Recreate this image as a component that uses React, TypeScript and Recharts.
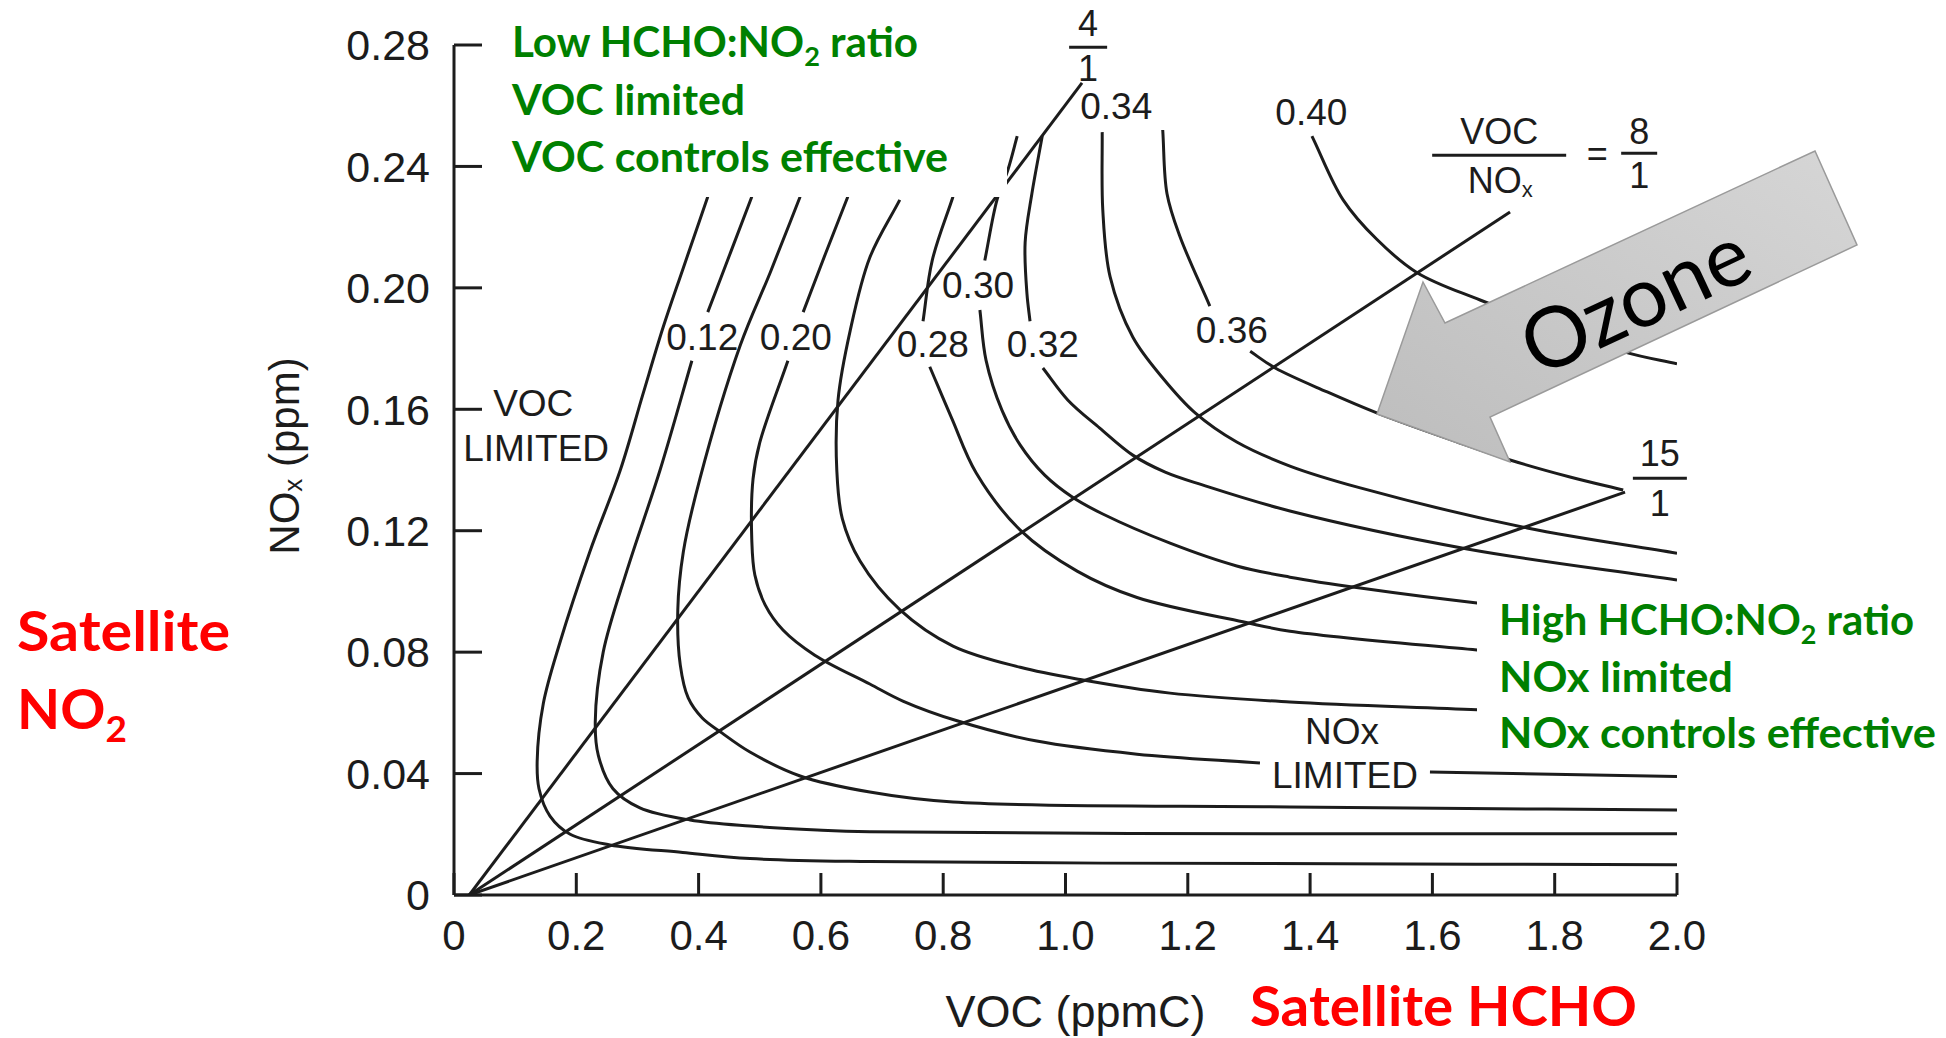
import React from 'react';
import { LineChart, Line, XAxis, YAxis, ReferenceDot } from 'recharts';

type Pair = [number, number | null];

// axes (VOC in ppmC, NOx in ppm)
const vocTicks = [0, 0.2, 0.4, 0.6, 0.8, 1.0, 1.2, 1.4, 1.6, 1.8, 2.0];
const noxTicks = [0, 0.04, 0.08, 0.12, 0.16, 0.2, 0.24, 0.28];

// ozone isopleths, [VOC, NOx]; null = gap where a label sits
const o3Levels = ['0.08', '0.12', '0.16', '0.20', '0.24', '0.28', '0.30', '0.32', '0.34', '0.36', '0.40'];

const iso008: Pair[] = [
  [0.415, 0.23], [0.374, 0.206], [0.342, 0.187], [0.309, 0.165], [0.272, 0.14], [0.222, 0.113],
  [0.173, 0.083], [0.146, 0.063], [0.136, 0.044], [0.139, 0.035], [0.157, 0.026], [0.19, 0.02],
  [0.255, 0.0165], [0.374, 0.014], [0.484, 0.012], [0.68, 0.011], [1.06, 0.0105], [2.0, 0.01],
];
const iso012: Pair[] = [
  [0.487, 0.23], [0.451, 0.211], [0.415, 0.192], [0.4, null], [0.389, 0.176], [0.337, 0.14],
  [0.283, 0.107], [0.244, 0.08], [0.231, 0.057], [0.236, 0.046], [0.26, 0.035], [0.304, 0.0287],
  [0.386, 0.0247], [0.484, 0.0227], [0.594, 0.0214], [0.68, 0.0208], [1.367, 0.0202], [2.0, 0.0202],
];
const iso016: Pair[] = [
  [0.566, 0.23], [0.517, 0.205], [0.468, 0.181], [0.402, 0.137], [0.375, 0.113], [0.366, 0.094],
  [0.37, 0.0758], [0.383, 0.0649], [0.406, 0.0583], [0.438, 0.0534], [0.484, 0.0471], [0.566, 0.0392],
  [0.68, 0.0339], [0.816, 0.0306], [1.367, 0.029], [2.0, 0.028],
];
const iso020: Pair[] = [
  [0.644, 0.23], [0.607, 0.211], [0.571, 0.192], [0.56, null], [0.546, 0.176], [0.5, 0.149],
  [0.489, 0.137], [0.487, 0.1169], [0.492, 0.1054], [0.509, 0.0955], [0.538, 0.0873], [0.59, 0.079],
  [0.68, 0.0695], [0.734, 0.0639], [0.824, 0.0573], [0.953, 0.0507], [1.117, 0.0464], [1.318, 0.0435],
  [1.45, null], [1.596, 0.0405], [2.0, 0.039],
];
const iso024: Pair[] = [
  [0.729, 0.229], [0.68, 0.21], [0.648, 0.186], [0.628, 0.163], [0.626, 0.14], [0.635, 0.124],
  [0.664, 0.11], [0.729, 0.094], [0.816, 0.082], [0.926, 0.075], [1.024, 0.071], [1.171, 0.0665],
  [1.367, 0.0636], [1.673, 0.061], [2.0, 0.058],
];
const iso028: Pair[] = [
  [0.816, 0.23], [0.782, 0.209], [0.767, 0.189], [0.77, null], [0.778, 0.174], [0.814, 0.157],
  [0.854, 0.139], [0.926, 0.1202], [1.019, 0.1067], [1.117, 0.098], [1.29, 0.09], [1.367, 0.0869],
  [1.673, 0.0807], [2.0, 0.0748],
];
const iso030: Pair[] = [
  [0.921, 0.25], [0.906, 0.239], [0.888, 0.229], [0.868, 0.209], [0.865, null], [0.86, 0.1927],
  [0.87, 0.1762], [0.896, 0.1597], [0.926, 0.1482], [0.966, 0.1383], [1.011, 0.1311], [1.061, 0.1255],
  [1.171, 0.1159], [1.28, 0.1084], [1.367, 0.1047], [1.482, 0.1011], [1.673, 0.0962], [2.0, 0.0899],
];
const iso032: Pair[] = [
  [0.962, 0.25], [0.945, 0.231], [0.934, 0.215], [0.937, 0.198], [0.942, 0.189], [0.95, null],
  [0.963, 0.1736], [1.004, 0.163], [1.056, 0.1538], [1.11, 0.1449], [1.163, 0.1393], [1.225, 0.135],
  [1.367, 0.1265], [1.657, 0.114], [2.0, 0.1038],
];
const iso034: Pair[] = [
  [1.06, 0.2513], [1.061, 0.2256], [1.073, 0.2036], [1.11, 0.1838], [1.159, 0.1703], [1.212, 0.1588],
  [1.28, 0.1492], [1.367, 0.1413], [1.482, 0.1341], [1.755, 0.1209], [2.0, 0.1126],
];
const iso036: Pair[] = [
  [1.159, 0.252], [1.166, 0.231], [1.187, 0.217], [1.236, 0.194], [1.25, null], [1.302, 0.1791],
  [1.343, 0.1736], [1.428, 0.1657], [1.509, 0.1588], [1.645, 0.1489], [1.727, 0.1433], [1.825, 0.1377],
  [1.912, 0.1334],
];
const iso040: Pair[] = [
  [1.403, 0.25], [1.454, 0.229], [1.509, 0.216], [1.575, 0.205], [1.678, 0.196], [1.912, 0.179],
  [2.0, 0.175],
];
const isopleths = [iso008, iso012, iso016, iso020, iso024, iso028, iso030, iso032, iso034, iso036, iso040];

// VOC/NOx ratio lines from the origin
const ratio4: Pair[] = [[0.025, 0], [1.027, 0.2675]];
const ratio8: Pair[] = [[0.025, 0], [1.727, 0.225]];
const ratio15: Pair[] = [[0.025, 0], [1.915, 0.1327]];
const ratioLines = [ratio4, ratio8, ratio15];

// where the scan prints the isopleth labels (data units)
const levelLabels = [
  { text: '0.12', x: 0.406, y: 0.1835 },
  { text: '0.20', x: 0.559, y: 0.1835 },
  { text: '0.28', x: 0.783, y: 0.1812 },
  { text: '0.30', x: 0.857, y: 0.2009 },
  { text: '0.32', x: 0.963, y: 0.1812 },
  { text: '0.34', x: 1.083, y: 0.2596 },
  { text: '0.36', x: 1.272, y: 0.1861 },
  { text: '0.40', x: 1.402, y: 0.2579 },
];

const toRows = (pts: Pair[]) => pts.map(([x, y]) => ({ x, y }));

// centripetal catmull-rom, so the hand-drawn isopleths bend without wobbling
const smooth = (context: any) => {
  let pts: number[][] = [];
  return {
    areaStart() {},
    areaEnd() {},
    lineStart() {
      pts = [];
    },
    point(x: number, y: number) {
      pts.push([+x, +y]);
    },
    lineEnd() {
      const n = pts.length;
      if (!n) return;
      context.moveTo(pts[0][0], pts[0][1]);
      if (n === 1) return;
      for (let i = 0; i < n - 1; i++) {
        const p1 = pts[i];
        const p2 = pts[i + 1];
        const p0 = i > 0 ? pts[i - 1] : [2 * p1[0] - p2[0], 2 * p1[1] - p2[1]];
        const p3 = i + 2 < n ? pts[i + 2] : [2 * p2[0] - p1[0], 2 * p2[1] - p1[1]];
        const d1 = Math.sqrt(Math.hypot(p1[0] - p0[0], p1[1] - p0[1])) || 1e-6;
        const d2 = Math.sqrt(Math.hypot(p2[0] - p1[0], p2[1] - p1[1])) || 1e-6;
        const d3 = Math.sqrt(Math.hypot(p3[0] - p2[0], p3[1] - p2[1])) || 1e-6;
        const a = 2 * d1 * d1 + 3 * d1 * d2 + d2 * d2;
        const na = 3 * d1 * (d1 + d2);
        const b = 2 * d3 * d3 + 3 * d3 * d2 + d2 * d2;
        const nb = 3 * d3 * (d3 + d2);
        const c1x = (a * p1[0] - d2 * d2 * p0[0] + d1 * d1 * p2[0]) / na;
        const c1y = (a * p1[1] - d2 * d2 * p0[1] + d1 * d1 * p2[1]) / na;
        const c2x = (b * p2[0] + d3 * d3 * p1[0] - d2 * d2 * p3[0]) / nb;
        const c2y = (b * p2[1] + d3 * d3 * p1[1] - d2 * d2 * p3[1]) / nb;
        context.bezierCurveTo(c1x, c1y, c2x, c2y, p2[0], p2[1]);
      }
    },
  };
};

const ink = '#1c1c1c';
const sans = '"Liberation Sans", Arial, Helvetica, sans-serif';
const slide = 'Lato, "Open Sans", sans-serif';
const green = '#008000';
const red = '#ff0000';

const Frac = ({ cx, cy, top, bottom, half, up, down }: any) => (
  <g fontFamily={sans} fill={ink} fontSize={36} textAnchor="middle" dominantBaseline="central">
    <text x={cx} y={cy - up}>{top}</text>
    <line x1={cx - half} x2={cx + half} y1={cy} y2={cy} stroke={ink} strokeWidth={3} />
    <text x={cx} y={cy + down}>{bottom}</text>
  </g>
);

export default function App() {
  return (
    <div style={{ position: 'absolute', left: 0, top: 0, width: 1946, height: 1038, background: '#fff', overflow: 'hidden', fontFamily: sans }}>
      <LineChart width={1946} height={1038} margin={{ top: 45, right: 269, bottom: 83, left: 354 }}>
        <XAxis
          type="number"
          dataKey="x"
          domain={[0, 2]}
          ticks={vocTicks}
          interval={0}
          allowDataOverflow
          tickFormatter={(v: number) => (v === 0 ? '0' : v.toFixed(1))}
          height={60}
          tickSize={-22}
          tickMargin={47}
          axisLine={{ stroke: ink, strokeWidth: 3 }}
          tickLine={{ stroke: ink, strokeWidth: 3 }}
          tick={{ fill: ink, fontSize: 42, fontFamily: sans }}
          label={{ value: 'VOC (ppmC)', position: 'bottom', offset: 40, dx: 10, fill: ink, fontSize: 45, fontFamily: sans }}
        />
        <YAxis
          type="number"
          dataKey="y"
          domain={[0, 0.28]}
          ticks={noxTicks}
          interval={0}
          allowDataOverflow
          tickFormatter={(v: number) => (v === 0 ? '0' : v.toFixed(2))}
          width={100}
          tickSize={-28}
          tickMargin={52}
          axisLine={{ stroke: ink, strokeWidth: 3 }}
          tickLine={{ stroke: ink, strokeWidth: 3 }}
          tick={{ fill: ink, fontSize: 43, fontFamily: sans }}
        />
        {ratioLines.map((pts, i) => (
          <Line key={'r' + i} data={toRows(pts)} dataKey="y" type="linear" stroke={ink} strokeWidth={3}
            dot={false} activeDot={false} isAnimationActive={false} />
        ))}
        {isopleths.map((pts, i) => (
          <Line key={o3Levels[i]} name={o3Levels[i]} data={toRows(pts)} dataKey="y" type={smooth as any} stroke={ink}
            strokeWidth={3} dot={false} activeDot={false} connectNulls={false} isAnimationActive={false} />
        ))}
        {levelLabels.map((l) => (
          <ReferenceDot key={l.text} x={l.x} y={l.y} r={0} ifOverflow="visible"
            shape={(p: any) => (
              <text x={p.cx} y={p.cy} textAnchor="middle" dominantBaseline="central" fontFamily={sans} fontSize={37} fill={ink}>
                {l.text}
              </text>
            )}
          />
        ))}
        <ReferenceDot x={1.037} y={0.2793} r={0} ifOverflow="visible"
          shape={(p: any) => <Frac cx={p.cx} cy={p.cy} top="4" bottom="1" half={19} up={24} down={21} />} />
        <ReferenceDot x={1.972} y={0.1373} r={0} ifOverflow="visible"
          shape={(p: any) => <Frac cx={p.cx} cy={p.cy} top="15" bottom="1" half={27} up={25} down={25} />} />
        <ReferenceDot x={1.719} y={0.2437} r={0} ifOverflow="visible"
          shape={(p: any) => (
            <g>
              <Frac cx={p.cx - 6} cy={p.cy} top="VOC" bottom="" half={67} up={24} down={25} />
              <text x={p.cx - 5} y={p.cy + 25} textAnchor="middle" dominantBaseline="central" fontFamily={sans} fontSize={36} fill={ink}>
                NO<tspan fontSize={22} dy={9}>x</tspan>
              </text>
              <text x={p.cx + 92} y={p.cy - 2} textAnchor="middle" dominantBaseline="central" fontFamily={sans} fontSize={36} fill={ink}>=</text>
              <Frac cx={p.cx + 134} cy={p.cy - 2} top="8" bottom="1" half={18} up={22} down={22} />
            </g>
          )} />
        <ReferenceDot x={0.064} y={0.162} r={0} ifOverflow="visible"
          shape={(p: any) => (
            <g fontFamily={sans} fontSize={37} fill={ink} dominantBaseline="central">
              <text x={p.cx} y={p.cy}>VOC</text>
              <text x={p.cx - 30} y={p.cy + 45}>LIMITED</text>
            </g>
          )} />
        <ReferenceDot x={1.457} y={0.0395} r={0} ifOverflow="visible"
          shape={(p: any) => (
            <g fontFamily={sans} fontSize={37} fill={ink} textAnchor="middle" dominantBaseline="central">
              <text x={p.cx - 3} y={p.cy - 44}>NOx</text>
              <text x={p.cx} y={p.cy}>LIMITED</text>
            </g>
          )} />
      </LineChart>

      <svg width={1946} height={1038} style={{ position: 'absolute', left: 0, top: 0, pointerEvents: 'none' }}>
        <defs>
          <linearGradient id="arrowFill" x1="0" y1="1" x2="1" y2="0">
            <stop offset="0" stopColor="#bdbdbd" />
            <stop offset="1" stopColor="#d6d6d6" />
          </linearGradient>
        </defs>

        <text transform="translate(284,456) rotate(-90)" textAnchor="middle" dominantBaseline="central" fontFamily={sans} fontSize={42} fill={ink}>
          NO<tspan fontSize={26} dy={9}>x</tspan><tspan dy={-9}> (ppm)</tspan>
        </text>

        <rect x={490} y={0} width={517} height={197} fill="#fff" />
        <rect x={1477} y={583} width={469} height={188} fill="#fff" />

        <g fontFamily={slide} fontWeight={700} fontSize={42} fill={green}>
          <text x={512} y={57} textLength={406} lengthAdjust="spacingAndGlyphs">
            Low HCHO:NO<tspan fontSize={27} dy={9}>2</tspan><tspan dy={-9}> ratio</tspan>
          </text>
          <text x={512} y={115} textLength={233} lengthAdjust="spacingAndGlyphs">VOC limited</text>
          <text x={512} y={172} textLength={436} lengthAdjust="spacingAndGlyphs">VOC controls effective</text>

          <text x={1499} y={635} textLength={415} lengthAdjust="spacingAndGlyphs">
            High HCHO:NO<tspan fontSize={27} dy={9}>2</tspan><tspan dy={-9}> ratio</tspan>
          </text>
          <text x={1499} y={692} textLength={234} lengthAdjust="spacingAndGlyphs">NOx limited</text>
          <text x={1499} y={748} textLength={437} lengthAdjust="spacingAndGlyphs">NOx controls effective</text>
        </g>

        <g fontFamily={slide} fontWeight={700} fontSize={56} fill={red}>
          <text x={17} y={651} textLength={213} lengthAdjust="spacingAndGlyphs">Satellite</text>
          <text x={17} y={729}>
            NO<tspan fontSize={37} dy={13}>2</tspan>
          </text>
          <text x={1250} y={1026} textLength={387} lengthAdjust="spacingAndGlyphs">Satellite HCHO</text>
        </g>

        <polygon
          points="1377,414 1423,282 1445,323 1815,151 1857,245 1490,417 1510,462"
          fill="url(#arrowFill)"
          stroke="#9a9a9a"
          strokeWidth={1.5}
        />
        <text transform="translate(1634,297) rotate(-25)" textAnchor="middle" dominantBaseline="central" fontFamily={slide} fontSize={84} fill="#000">
          Ozone
        </text>
      </svg>
    </div>
  );
}
